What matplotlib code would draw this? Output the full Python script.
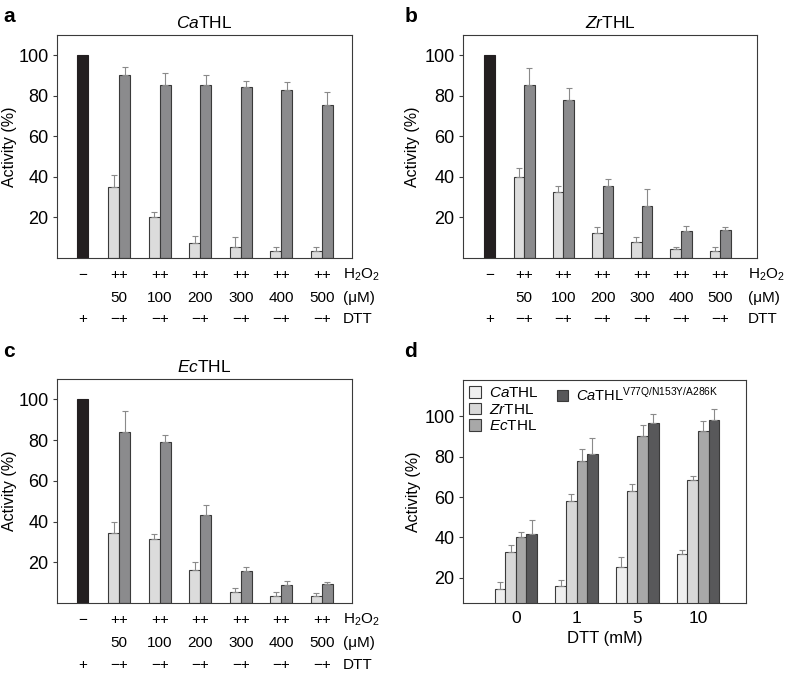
import matplotlib
matplotlib.use("Agg")
import matplotlib.pyplot as plt
from matplotlib.patches import Patch
import numpy as np

plt.rcParams['font.family'] = ['Liberation Sans', 'DejaVu Sans']
plt.rcParams['mathtext.fontset'] = 'custom'
plt.rcParams['mathtext.rm'] = 'Liberation Sans'
plt.rcParams['mathtext.it'] = 'Liberation Sans:italic'
plt.rcParams['axes.linewidth'] = 0.8
plt.rcParams['axes.edgecolor'] = '#3a3a3a'

# H2O2 series (a-c)
conc = ['50', '100', '200', '300', '400', '500']
ca_minus = [35.1, 20.0, 7.6, 5.3, 3.4, 3.4]
ca_minus_err = [5.9, 2.5, 3.2, 5.2, 1.9, 1.9]
ca_plus = [90.1, 85.2, 85.2, 84.4, 83.1, 75.5]
ca_plus_err = [4.0, 6.3, 4.9, 3.0, 3.9, 6.3]

zr_minus = [40.1, 32.7, 12.3, 7.7, 4.4, 3.4]
zr_minus_err = [4.1, 2.6, 2.8, 2.8, 1.0, 1.9]
zr_plus = [85.2, 78.0, 35.5, 25.6, 13.3, 13.6]
zr_plus_err = [8.7, 6.1, 3.3, 8.2, 2.3, 1.7]

ec_minus = [34.6, 31.3, 16.2, 5.4, 3.3, 3.3]
ec_minus_err = [5.4, 2.8, 3.8, 1.8, 2.3, 1.7]
ec_plus = [84.1, 78.9, 43.1, 15.7, 8.9, 9.2]
ec_plus_err = [10.0, 3.7, 5.1, 2.0, 2.1, 1.1]

# DTT series (d)
dtt = ['0', '1', '5', '10']
d_names = ['$\\mathit{Ca}$THL', '$\\mathit{Zr}$THL', '$\\mathit{Ec}$THL',
           '$\\mathit{Ca}\\mathrm{THL}^{\\mathrm{V77Q/N153Y/A286K}}$']
d_vals = [[14.2, 16.0, 25.4, 31.8],
          [33.0, 58.1, 63.0, 68.2],
          [40.3, 78.0, 90.4, 92.6],
          [41.9, 81.5, 96.7, 98.4]]
d_errs = [[3.6, 2.8, 5.1, 1.9],
          [3.0, 3.6, 3.7, 2.1],
          [2.6, 6.0, 5.5, 5.3],
          [6.6, 7.9, 4.6, 5.1]]
d_colors = ['#efefef', '#d8d8d8', '#a8a8a8', '#58585a']

LIGHT = '#dcdcdc'
DARK = '#8b8b8d'
BLACK = '#231f20'
EDGE = '#3a3a3a'
ERR = '#8a8a8a'
FS = 11
TFS = 13

fig = plt.figure(figsize=(7.88, 6.73), dpi=100)


def h2o2_panel(rect, title, minus, minus_err, plus, plus_err, xlim, xblack, ylab_x):
    ax = fig.add_axes(rect)
    w = 0.27
    x = np.arange(1, 7)
    ax.bar([xblack], [100], width=w, color=BLACK, edgecolor=BLACK, linewidth=0.8)
    ax.bar(x - w / 2, minus, width=w, color=LIGHT, edgecolor=EDGE, linewidth=0.8)
    ax.bar(x + w / 2, plus, width=w, color=DARK, edgecolor=EDGE, linewidth=0.8)
    ax.errorbar(x - w / 2, minus, yerr=[np.zeros(6), minus_err], fmt='none',
                ecolor=ERR, elinewidth=0.8, capsize=2, capthick=0.8)
    ax.errorbar(x + w / 2, plus, yerr=[np.zeros(6), plus_err], fmt='none',
                ecolor=ERR, elinewidth=0.8, capsize=2, capthick=0.8)
    ax.set_xlim(*xlim)
    ax.set_ylim(0, 110)
    ax.set_yticks([20, 40, 60, 80, 100])
    ax.set_xticks([])
    ax.tick_params(axis='y', labelsize=TFS, length=3, width=0.8, color=EDGE, pad=3)
    ax.set_ylabel('Activity (%)', fontsize=11.5)
    ax.yaxis.set_label_coords(ylab_x, 0.5)
    ax.set_title(title, fontsize=12.5, pad=5)
    tr = ax.get_xaxis_transform()
    rows = [-0.075, -0.18, -0.275]
    ax.text(xblack, rows[0], '\u2212', transform=tr, ha='center', va='center', fontsize=FS)
    ax.text(xblack, rows[2], '+', transform=tr, ha='center', va='center', fontsize=FS)
    for xi, c in zip(x, conc):
        ax.text(xi, rows[0], '++', transform=tr, ha='center', va='center', fontsize=FS)
        ax.text(xi, rows[1], c, transform=tr, ha='center', va='center', fontsize=FS)
        ax.text(xi, rows[2], '\u2212+', transform=tr, ha='center', va='center', fontsize=FS)
    for r, lab in zip(rows, ['H$_2$O$_2$', '(\u03bcM)', 'DTT']):
        ax.text(0.968, r, lab, transform=ax.transAxes, ha='left', va='center', fontsize=FS)
    return ax


h2o2_panel([0.0723, 0.6166, 0.3744, 0.3314], '$\\mathit{Ca}$THL',
           ca_minus, ca_minus_err, ca_plus, ca_plus_err, (-0.53, 6.74), 0.11, -0.135)
h2o2_panel([0.5876, 0.6166, 0.3731, 0.3314], '$\\mathit{Zr}$THL',
           zr_minus, zr_minus_err, zr_plus, zr_plus_err, (-0.56, 6.94), 0.11, -0.145)
h2o2_panel([0.0723, 0.1040, 0.3744, 0.3328], '$\\mathit{Ec}$THL',
           ec_minus, ec_minus_err, ec_plus, ec_plus_err, (-0.53, 6.74), 0.11, -0.135)

# panel d
ax = fig.add_axes([0.5876, 0.1040, 0.3590, 0.3314])
w = 0.175
xg = np.arange(len(dtt))
handles = []
for k in range(4):
    xs = xg + (k - 1.5) * w
    ax.bar(xs, d_vals[k], width=w, color=d_colors[k], edgecolor=EDGE, linewidth=0.8)
    ax.errorbar(xs, d_vals[k], yerr=[np.zeros(4), d_errs[k]], fmt='none',
                ecolor=ERR, elinewidth=0.8, capsize=2, capthick=0.8)
    handles.append(Patch(facecolor=d_colors[k], edgecolor=EDGE, linewidth=0.8, label=d_names[k]))
ax.set_xlim(-0.87, 3.79)
ax.set_ylim(7.5, 118)
ax.set_yticks([20, 40, 60, 80, 100])
ax.set_xticks(xg)
ax.set_xticklabels(dtt)
ax.tick_params(axis='y', labelsize=TFS, length=3, width=0.8, color=EDGE, pad=3)
ax.tick_params(axis='x', labelsize=12.5, length=0, pad=6)
ax.set_xlabel('DTT (mM)', fontsize=12, labelpad=3)
ax.set_ylabel('Activity (%)', fontsize=11.5)
ax.yaxis.set_label_coords(-0.15, 0.5)
leg1 = ax.legend(handles=handles[:3], loc='upper left', frameon=False, fontsize=FS,
                 handlelength=0.8, handleheight=0.8, handletextpad=0.5,
                 labelspacing=0.15, borderaxespad=0.2, borderpad=0.2)
ax.add_artist(leg1)
ax.legend(handles=handles[3:], loc='upper left', bbox_to_anchor=(0.31, 1.0), frameon=False,
          fontsize=10.5, handlelength=0.8, handleheight=0.8, handletextpad=0.5,
          borderaxespad=0.2, borderpad=0.2)

# panel letters
for lx, ly, lab in [(0.004, 0.975, 'a'), (0.513, 0.975, 'b'), (0.004, 0.478, 'c'), (0.513, 0.478, 'd')]:
    fig.text(lx, ly, lab, fontsize=15, fontweight='bold', ha='left', va='center')

fig.savefig('out.png', dpi=100)
